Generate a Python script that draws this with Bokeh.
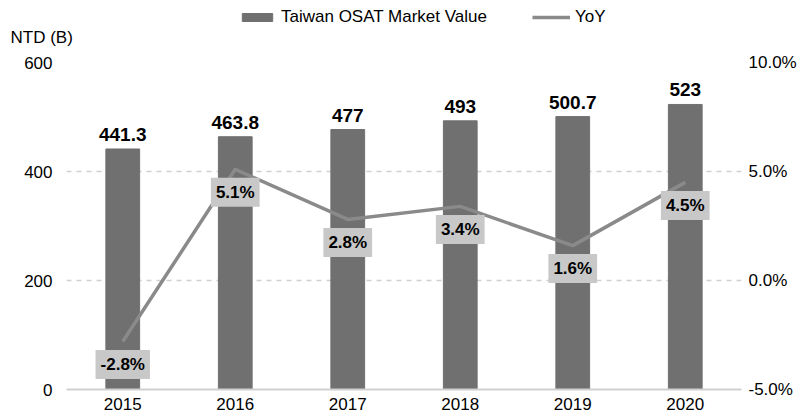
from bokeh.plotting import figure
from bokeh.layouts import column
from bokeh.models import (ColumnDataSource, Range1d, LinearAxis, FixedTicker, PrintfTickFormatter,
                          LabelSet, Legend, LegendItem, Label)
from bokeh.core.properties import value
from bokeh.embed import file_html
from bokeh.resources import INLINE

years = ["2015", "2016", "2017", "2018", "2019", "2020"]
market_value = [441.3, 463.8, 477, 493, 500.7, 523]
yoy = [-2.8, 5.1, 2.8, 3.4, 1.6, 4.5]
value_ticks = [0, 200, 400, 600]
yoy_ticks = [-5, 0, 5, 10]

FONT = "Liberation Sans"
BAR = "#707070"
LINE = "#8a8a8a"
W = 804
HEADER_H = 52

src = ColumnDataSource(dict(
    year=years, value=market_value, yoy=yoy,
    vlabel=[f"{v:g}" for v in market_value],
    ylabel=[f"{v:.1f}%" for v in yoy],
))

# ---------- header: unit label + legend ----------
hdr = figure(width=W, height=HEADER_H, x_range=Range1d(0, W), y_range=Range1d(0, HEADER_H),
             output_backend="svg", toolbar_location=None, x_axis_type=None, y_axis_type=None,
             min_border=0)
hdr.frame_align = False
hdr.outline_line_color = None
hdr.grid.visible = False
# legend proxies (kept outside the visible range; only their legend glyphs are shown)
leg_bar = hdr.vbar(x=[-100], top=[-100], width=1, color=BAR)
leg_line = hdr.line(x=[-100, -90], y=[-100, -100], line_color=LINE, line_width=3.5)
legend = Legend(items=[LegendItem(label="Taiwan OSAT Market Value", renderers=[leg_bar]),
                       LegendItem(label="YoY", renderers=[leg_line])],
                orientation="horizontal", location=(238, 25), glyph_width=38, glyph_height=10,
                label_text_font=FONT, label_text_font_size="17px", label_text_color="#000000",
                spacing=45, label_standoff=5, border_line_color=None, background_fill_alpha=0,
                padding=0, margin=0)
hdr.add_layout(legend, "center")
hdr.add_layout(Label(x=10, y=15, text="NTD (B)", text_font=FONT, text_font_size="17px",
                     text_baseline="alphabetic", text_color="#000000"))

# ---------- main chart ----------
p = figure(x_range=years, y_range=Range1d(0, 600), width=W, height=417 - HEADER_H,
           output_backend="svg", toolbar_location=None,
           min_border_left=66, min_border_right=63, min_border_top=10, min_border_bottom=28)
p.frame_align = False
p.x_range.range_padding = 0
p.outline_line_color = None
p.extra_y_ranges = {"yoy": Range1d(-5, 10)}

bars = p.vbar(x="year", top="value", width=0.30, source=src, color=BAR)
line = p.line(x="year", y="yoy", source=src, y_range_name="yoy", line_color=LINE, line_width=3.5)

p.yaxis.ticker = FixedTicker(ticks=value_ticks)
for ax in [p.yaxis[0], p.xaxis[0]]:
    ax.major_tick_line_color = None
    ax.minor_tick_line_color = None
    ax.major_tick_out = 0
    ax.major_label_text_font = FONT
    ax.major_label_text_font_size = "17px"
    ax.major_label_text_color = "#000000"
p.yaxis.axis_line_color = None
p.yaxis.major_label_standoff = 14
p.xaxis.axis_line_color = "#d0d0d0"
p.xaxis.axis_line_width = 2
p.xaxis.major_label_standoff = 8

right = LinearAxis(y_range_name="yoy", ticker=FixedTicker(ticks=yoy_ticks),
                   formatter=PrintfTickFormatter(format="%.1f%%"))
right.axis_line_color = None
right.major_tick_line_color = None
right.minor_tick_line_color = None
right.major_tick_out = 0
right.major_label_text_font = FONT
right.major_label_text_font_size = "17px"
right.major_label_text_color = "#000000"
right.major_label_standoff = 7
p.add_layout(right, "right")

p.xgrid.grid_line_color = None
p.ygrid.grid_line_color = "#d0d0d0"
p.ygrid.grid_line_dash = "5 5"
p.ygrid.grid_line_width = 1.5

p.add_layout(LabelSet(x="year", y="value", text="vlabel", source=src, text_align="center",
                      text_baseline="alphabetic", y_offset=8, text_font=value(FONT),
                      text_font_size="19px", text_font_style="bold", text_color="#000000"))
p.text(x="year", y="yoy", text="ylabel", source=src, y_range_name="yoy",
       text_align="center", text_baseline="middle", y_offset=23, text_font=value(FONT),
       text_font_size="17px", text_font_style="bold", text_color="#000000",
       background_fill_color="#c8c8c8", padding=5)

layout = column(hdr, p, spacing=0)
open("out.html", "w").write(file_html(layout, INLINE))
